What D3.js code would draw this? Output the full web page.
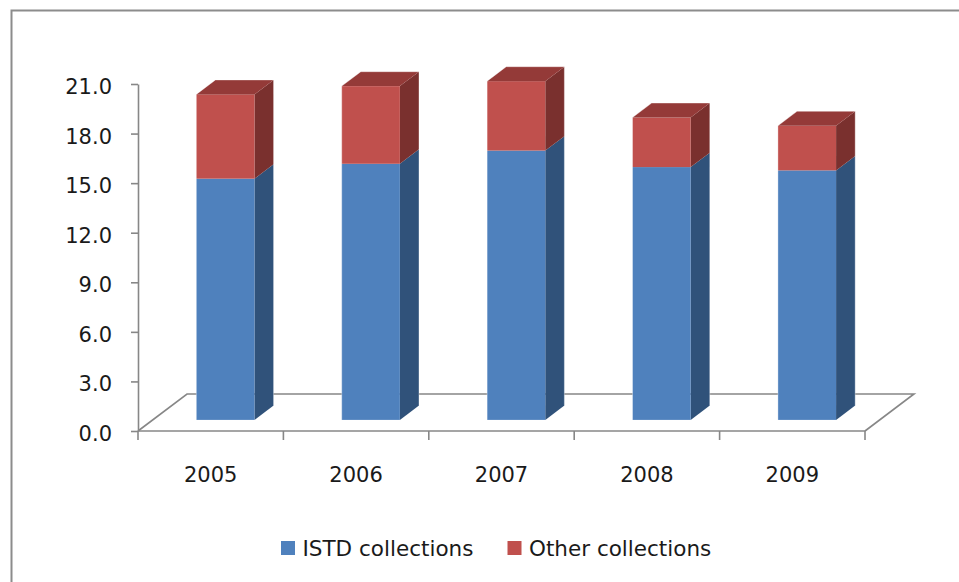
<!DOCTYPE html>
<html>
<head>
<meta charset="utf-8">
<script src="https://cdn.jsdelivr.net/npm/d3@7"></script>
<style>
  html, body { margin: 0; padding: 0; background: #fff; }
  svg { display: block; }
  text { font-family: "DejaVu Sans", sans-serif; fill: #1a1a1a; }
</style>
</head>
<body>
<svg id="chart" width="959" height="582"></svg>
<script>
// Collections per year (stacked)
const years = ["2005", "2006", "2007", "2008", "2009"];
const istdCollections = [14.6, 15.5, 16.3, 15.3, 15.1];
const otherCollections = [5.1, 4.7, 4.2, 3.0, 2.7];
const yTicks = [0, 3, 6, 9, 12, 15, 18, 21];
const seriesNames = ["ISTD collections", "Other collections"];

(function () {
  const svg = d3.select("#chart");
  const W = 959, H = 582;

  // Plot box (front plane) and oblique depth offset
  const plotLeft = 138, plotRight = 865, plotBottom = 431, plotTop = 84;
  const depthX = 49, depthY = -37;          // full floor depth
  const barFront = 0.3, barDepth = 0.39;    // bar position inside the depth
  const barWidthRatio = 0.4;

  const x = d3.scaleBand().domain(years).range([plotLeft, plotRight]).paddingInner(0).paddingOuter(0);
  const y = d3.scaleLinear().domain([0, 21]).range([plotBottom, plotTop]);

  const colors = {
    istd:  { front: "#4F81BD", side: "#30527A", top: "#3E6699" },
    other: { front: "#C0504D", side: "#7A302E", top: "#943A38" }
  };
  const gridGray = "#878787";

  // Chart frame
  svg.append("path")
    .attr("d", `M11.5,${H + 5} L11.5,10.5 L${W + 5},10.5`)
    .attr("fill", "none")
    .attr("stroke", "#8c8c8c")
    .attr("stroke-width", 2);

  // Floor outline
  const floorPts = [
    [plotLeft, plotBottom], [plotLeft + depthX, plotBottom + depthY],
    [plotRight + depthX, plotBottom + depthY], [plotRight, plotBottom]
  ];
  svg.append("path")
    .attr("d", d3.line()(floorPts))
    .attr("fill", "none")
    .attr("stroke", gridGray)
    .attr("stroke-width", 1.6);

  // Value axis on the front-left edge
  const yAxis = d3.axisLeft(y)
    .tickValues(yTicks)
    .tickFormat(d3.format(".1f"))
    .tickSize(7)
    .tickSizeOuter(0)
    .tickPadding(19);
  const gy = svg.append("g").attr("transform", `translate(${plotLeft},0)`).call(yAxis);
  gy.select(".domain").attr("stroke", gridGray).attr("stroke-width", 1.6);
  gy.selectAll(".tick line").attr("stroke", gridGray).attr("stroke-width", 1.6);
  gy.selectAll(".tick text")
    .attr("font-size", 21)
    .attr("font-family", "DejaVu Sans, sans-serif")
    .attr("fill", "#1a1a1a")
    .attr("dy", "0.45em");

  // Category axis: front floor edge with ticks on band boundaries
  const gx = svg.append("g");
  gx.append("line")
    .attr("x1", plotLeft).attr("x2", plotRight)
    .attr("y1", plotBottom).attr("y2", plotBottom)
    .attr("stroke", gridGray).attr("stroke-width", 1.6);
  const bounds = years.map(d => x(d)).concat([x(years[years.length - 1]) + x.bandwidth()]);
  gx.selectAll("line.tick").data(bounds).join("line")
    .attr("class", "tick")
    .attr("x1", d => d).attr("x2", d => d)
    .attr("y1", plotBottom).attr("y2", plotBottom + 9)
    .attr("stroke", gridGray).attr("stroke-width", 1.6);
  gx.selectAll("text").data(years).join("text")
    .attr("x", d => x(d) + x.bandwidth() / 2)
    .attr("y", 482)
    .attr("text-anchor", "middle")
    .attr("font-size", 21)
    .text(d => d);

  // 3D stacked bars
  const bw = x.bandwidth() * barWidthRatio;
  const fx = depthX * barFront, fy = depthY * barFront;   // front-face shift
  const ddx = depthX * barDepth, ddy = depthY * barDepth; // bar depth

  const stackData = years.map((yr, i) => ({
    year: yr,
    segs: [
      { key: "istd", y0: 0, y1: istdCollections[i] },
      { key: "other", y0: istdCollections[i], y1: istdCollections[i] + otherCollections[i] }
    ]
  }));

  const bars = svg.append("g").selectAll("g").data(stackData).join("g");

  bars.each(function (d) {
    const g = d3.select(this);
    const x0 = x(d.year) + (x.bandwidth() - bw) / 2 + fx;
    const x1 = x0 + bw;
    d.segs.forEach((s, k) => {
      const yb = y(s.y0) + fy, yt = y(s.y1) + fy;
      const c = colors[s.key];
      // side face
      g.append("path")
        .attr("d", d3.line()([[x1, yb], [x1 + ddx, yb + ddy], [x1 + ddx, yt + ddy], [x1, yt]]) + "Z")
        .attr("fill", c.side);
      // front face
      g.append("rect")
        .attr("x", x0).attr("y", yt)
        .attr("width", bw).attr("height", yb - yt)
        .attr("fill", c.front);
      // top face on the last segment
      if (k === d.segs.length - 1) {
        g.append("path")
          .attr("d", d3.line()([[x0, yt], [x0 + ddx, yt + ddy], [x1 + ddx, yt + ddy], [x1, yt]]) + "Z")
          .attr("fill", c.top);
      }
    });
    // faint highlight on the bar outline
    const yTopBar = y(d.segs[1].y1) + fy, yBotBar = y(0) + fy;
    g.append("path")
      .attr("d", d3.line()([[x0, yBotBar], [x0, yTopBar], [x0 + ddx, yTopBar + ddy], [x1 + ddx, yTopBar + ddy], [x1 + ddx, yBotBar + ddy]]))
      .attr("fill", "none")
      .attr("stroke", "rgba(255,255,255,0.35)")
      .attr("stroke-width", 1);
  });

  // Legend
  const legend = svg.append("g");
  const legendItems = [
    { name: seriesNames[0], color: colors.istd.front, x: 281 },
    { name: seriesNames[1], color: colors.other.front, x: 507.5 }
  ];
  const li = legend.selectAll("g").data(legendItems).join("g")
    .attr("transform", d => `translate(${d.x},541)`);
  li.append("rect").attr("width", 14).attr("height", 14).attr("fill", d => d.color);
  li.append("text").attr("x", 21.5).attr("y", 15).attr("font-size", 21.5).text(d => d.name);
})();
</script>
</body>
</html>
